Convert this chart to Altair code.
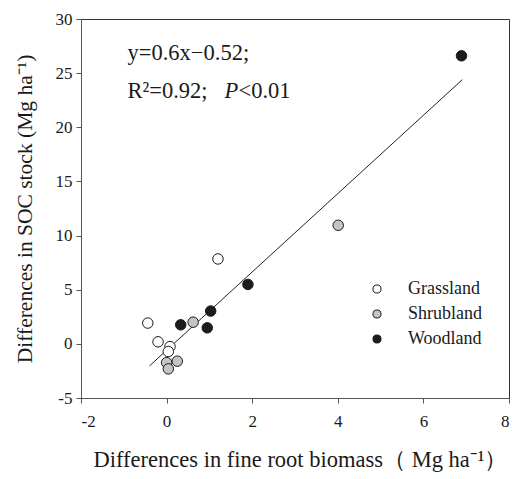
import altair as alt
import pandas as pd

grass_x = [-0.44, -0.20, 0.08, 0.04, 1.20]
grass_y = [1.92, 0.19, -0.25, -0.71, 7.84]
shrub_x = [0.00, 0.04, 0.25, 0.62, 4.01]
shrub_y = [-1.73, -2.31, -1.60, 2.00, 10.95]
wood_x = [0.33, 0.95, 1.03, 1.90, 6.89]
wood_y = [1.76, 1.48, 3.03, 5.49, 26.6]

fit_x = [-0.40, 6.91]
fit_y = [-2.04, 24.4]

groups = ["Grassland", "Shrubland", "Woodland"]
fills = ["#ffffff", "#c4c4c4", "#1c1c1c"]

rows = []
for g, xs, ys in zip(groups, [grass_x, shrub_x, wood_x], [grass_y, shrub_y, wood_y]):
    for a, b in zip(xs, ys):
        rows.append({"x": a, "y": b, "group": g})
df = pd.DataFrame(rows)
fit_df = pd.DataFrame({"x": fit_x, "y": fit_y})

FONT = "Liberation Serif"

xscale = alt.Scale(domain=[-2, 8], nice=False, zero=False)
yscale = alt.Scale(domain=[-5, 30], nice=False, zero=False)

xaxis = alt.Axis(values=[-2, 0, 2, 4, 6, 8], grid=False, tickSize=5, labelPadding=10,
                 labelExpr="'' + datum.value",
                 title="Differences in fine root biomass（ Mg ha⁻¹）", titlePadding=19,
                 titleX=219, titleAlign="center",
                 titleFontWeight="normal", titleFontSize=22.5, labelFontSize=17,
                 labelFont=FONT, titleFont=FONT)
yaxis = alt.Axis(values=[-5, 0, 5, 10, 15, 20, 25, 30], grid=False, tickSize=5, labelPadding=4,
                 labelExpr="'' + datum.value",
                 title="Differences in SOC stock (Mg ha⁻¹)", titlePadding=19,
                 titleFontWeight="normal", titleFontSize=21.5, labelFontSize=17,
                 labelFont=FONT, titleFont=FONT)

line = alt.Chart(fit_df).mark_line(color="#222", strokeWidth=1).encode(
    x=alt.X("x:Q", scale=xscale, axis=xaxis),
    y=alt.Y("y:Q", scale=yscale, axis=yaxis),
)

points = alt.Chart(df).mark_point(filled=True, size=110, stroke="#1a1a1a", strokeWidth=1, opacity=1).encode(
    x=alt.X("x:Q", scale=xscale),
    y=alt.Y("y:Q", scale=yscale),
    fill=alt.Fill("group:N", scale=alt.Scale(domain=groups, range=fills),
                  legend=alt.Legend(title=None, orient="none", legendX=287, legendY=261,
                                    labelFont=FONT, labelFontSize=18, symbolSize=65,
                                    symbolStrokeColor="#1a1a1a", symbolStrokeWidth=1,
                                    symbolType="circle", rowPadding=7, labelOffset=22,
                                    symbolOpacity=1, labelColor="#1a1a1a")),
)

FS = 22.5
ann1 = alt.Chart(pd.DataFrame({"t": ["y=0.6x\u22120.52;"]})).mark_text(
    align="left", baseline="middle", font=FONT, fontSize=FS, color="#1a1a1a"
).encode(x=alt.value(46.5), y=alt.value(34), text="t:N")

ann2 = alt.Chart(pd.DataFrame({"t": ["R²=0.92;"]})).mark_text(
    align="left", baseline="middle", font=FONT, fontSize=FS, color="#1a1a1a"
).encode(x=alt.value(46.5), y=alt.value(72), text="t:N")

ann3 = alt.Chart(pd.DataFrame({"t": ["P"]})).mark_text(
    align="left", baseline="middle", font=FONT, fontSize=FS, fontStyle="italic", color="#1a1a1a"
).encode(x=alt.value(143.5), y=alt.value(72), text="t:N")

ann4 = alt.Chart(pd.DataFrame({"t": ["<0.01"]})).mark_text(
    align="left", baseline="middle", font=FONT, fontSize=FS, color="#1a1a1a"
).encode(x=alt.value(157.5), y=alt.value(72), text="t:N")

chart = alt.layer(line, points, ann1, ann2, ann3, ann4).properties(
    width=428, height=379,
    autosize=alt.AutoSizeParams(type="none"),
    padding={"left": 73, "top": 11, "right": 3, "bottom": 80},
    background="white",
).configure_view(stroke="#333", strokeWidth=1).configure_axis(
    domainColor="#555", tickColor="#555",
    labelColor="#1a1a1a", titleColor="#1a1a1a"
)

chart.save("out.html", embed_options={"renderer": "svg", "actions": False})
